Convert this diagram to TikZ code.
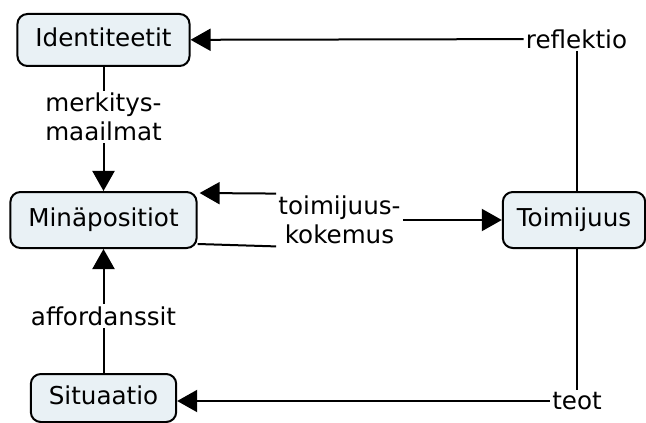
\documentclass[tikz,border=0pt]{standalone}
\usepackage{fontspec}
\setmainfont{DejaVu Sans}
\usetikzlibrary{arrows.meta}
\definecolor{conceptfill}{RGB}{233,241,245}

\begin{document}
\begin{tikzpicture}[x=0.5pt,y=-0.5pt,
  every node/.style={font=\fontsize{12.3}{14.5}\selectfont},
  concept/.style={draw, line width=1pt, rounded corners=5pt, fill=conceptfill,
    inner xsep=9pt, minimum height=26pt, text height=9pt, text depth=2.5pt},
  linkword/.style={inner sep=1pt, align=center},
  line/.style={line width=1pt},
  arr/.style={line width=1pt, -{Triangle[length=10pt,width=11pt]}}]
\useasboundingbox (0,0) rectangle (646,422);
% concepts
\node[concept] (ident) at (103.5,40) {Identiteetit};
\node[concept, minimum height=28pt] (mina) at (103.5,220) {Minäpositiot};
\node[concept, minimum height=28pt, inner xsep=7pt] (toim) at (574,220) {Toimijuus};
\node[concept, minimum height=24pt] (sit) at (103.5,398) {Situaatio};
% linking words
\node[linkword] (merk) at (103.5,117) {merkitys-\\maailmat};
\node[linkword] (refl) at (576.5,39) {reflektio};
\node[linkword] (teot) at (577,401) {teot};
\node[linkword] (aff) at (103.5,316) {affordanssit};
\node[linkword] (kok) at (339.5,220) {toimijuus-\\kokemus};
% connectors
\draw[line] (ident) -- (merk);
\draw[arr] (merk) -- (mina);
\draw[line] (refl.south) -- (refl.south |- toim.north);
\draw[arr] (refl) -- (ident);
\draw[line] (teot.north |- toim.south) -- (teot.north);
\draw[arr] (teot.west) -- (teot.west -| sit.east);
\draw[line] (sit) -- (aff);
\draw[arr] (aff) -- (mina);
\draw[line] ([yshift=2.5pt]mina.south east) -- (kok.south west);
\draw[arr] (kok.north west) -- ([xshift=1pt,yshift=-1pt]mina.north east);
\draw[arr] (kok) -- (toim);
\end{tikzpicture}
\end{document}
